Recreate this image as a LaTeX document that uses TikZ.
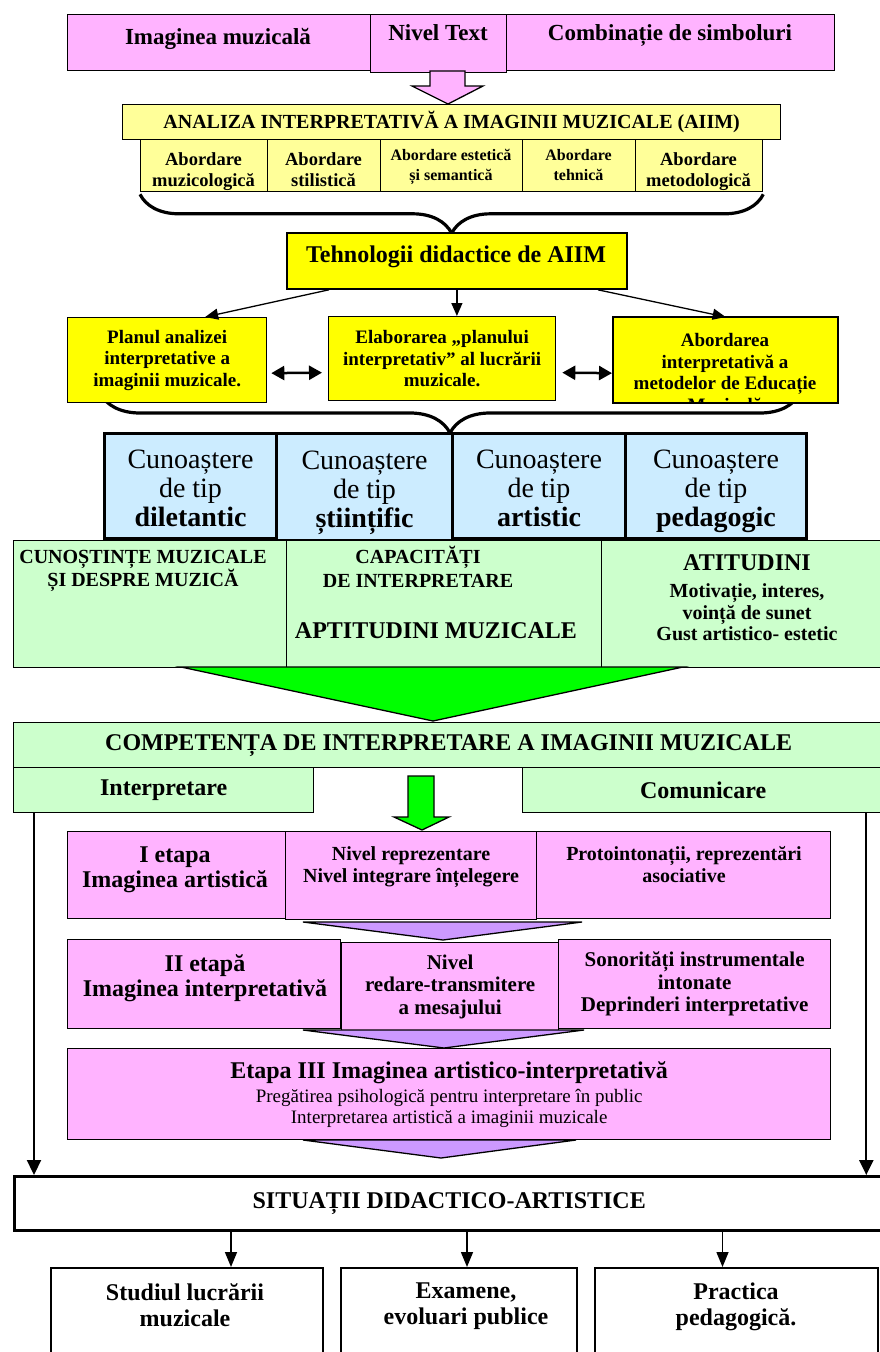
\documentclass[tikz,border=0pt]{standalone}
\usepackage{fontspec}
\setmainfont{Liberation Serif}
\usetikzlibrary{arrows.meta,decorations.pathreplacing,positioning}

\definecolor{roz}{HTML}{FFB3FF}
\definecolor{galbenpal}{HTML}{FFFF99}
\definecolor{galben}{HTML}{FFFF00}
\definecolor{albastru}{HTML}{CCECFF}
\definecolor{verdepal}{HTML}{CCFFCC}
\definecolor{verde}{HTML}{00FF00}
\definecolor{mov}{HTML}{CC99FF}

\newcommand{\fsz}[2]{\fontsize{#1}{#2}\selectfont}
\newcommand{\sus}{\rule{0pt}{32pt}}

\tikzset{
  cell/.style={draw, line width=1.3pt, anchor=north west, inner sep=1pt, align=center, font=\bfseries},
  rozbox/.style={cell, fill=roz},
  palbox/.style={cell, fill=galbenpal},
  galbox/.style={cell, fill=galben},
  cunbox/.style={cell, fill=albastru, line width=3pt, font=\mdseries\fsz{28}{29}},
  verdebox/.style={cell, fill=verdepal},
  albbox/.style={cell, fill=white, line width=2pt},
  txt/.style={align=center, inner sep=0pt, anchor=north},
  bloc/.style={line width=1.3pt, line join=miter},
  sageata/.style={-{Triangle[length=13pt,width=11pt]}, line width=1.3pt},
  sageatagr/.style={-{Triangle[length=15pt,width=14pt]}, line width=2.2pt},
  dubla/.style={{Triangle[length=13pt,width=14pt]}-{Triangle[length=13pt,width=14pt]}, line width=2.5pt},
  acolada/.style={decorate, decoration={brace, mirror, amplitude=#1}, line width=3.2pt},
}

\begin{document}
\begin{tikzpicture}[x=1pt, y=-1pt]
\useasboundingbox (0,0) rectangle (880,1352);

% nivelul textului
\node[rozbox, minimum width=303pt, minimum height=56pt] (imag) at (67,14) {};
\node[rozbox, minimum width=136pt, minimum height=58pt] (nivel) at (370,14) {};
\node[rozbox, minimum width=328pt, minimum height=56pt] (simb) at (506,14) {};
\node[txt, font=\bfseries\fsz{23}{26}] (imagT) at (218,28) {Imaginea muzicală};
\node[txt, font=\bfseries\fsz{23}{26}] (nivelT) at (438,24) {Nivel Text};
\node[txt, font=\bfseries\fsz{23}{26}] (simbT) at (670,24) {Combinație de simboluri};

\draw[bloc, fill=roz] (430,71) -- (465,71) -- (465,86) -- (483,86) -- (448,104) -- (412,86) -- (430,86) -- cycle;

% AIIM
\node[palbox, minimum width=658pt, minimum height=35pt, font=\bfseries\fsz{20}{22}] (analiza) at (122,104) {ANALIZA INTERPRETATIVĂ A IMAGINII MUZICALE (AIIM)};
\node[palbox, minimum width=127pt, minimum height=52pt] (ab1) at (140,139) {};
\node[palbox, minimum width=113pt, minimum height=52pt] (ab2) at (267,139) {};
\node[palbox, minimum width=142pt, minimum height=52pt] (ab3) at (380,139) {};
\node[palbox, minimum width=113pt, minimum height=52pt] (ab4) at (522,139) {};
\node[palbox, minimum width=127pt, minimum height=52pt] (ab5) at (635,139) {};
\node[txt, font=\bfseries\fsz{18.5}{21}] (ab1T) at (203.5,152) {Abordare\\muzicologică};
\node[txt, font=\bfseries\fsz{18.5}{21}] (ab2T) at (323.5,152) {Abordare\\stilistică};
\node[txt, font=\bfseries\fsz{16}{20}] (ab3T) at (451,149) {Abordare estetică\\și semantică};
\node[txt, font=\bfseries\fsz{16}{20}] (ab4T) at (578.5,149) {Abordare\\tehnică};
\node[txt, font=\bfseries\fsz{18.5}{21}] (ab5T) at (698.5,152) {Abordare\\metodologică};

\draw[acolada=39pt] ([yshift=-2pt]ab1.south west) -- ([yshift=-2pt]ab5.south east);

% tehnologii
\node[galbox, line width=1.8pt, minimum width=340pt, minimum height=56pt] (tehno) at (286,232) {};
\node[txt, font=\bfseries\fsz{24}{26}] (tehnoT) at (456,246) {Tehnologii didactice de AIIM};

\coordinate (acS) at (100,393);
\coordinate (acD) at (800,393);
\draw[acolada=40pt] (acS) -- (acD);

\node[galbox, minimum width=199pt, minimum height=85pt, font=\bfseries\fsz{19}{21.5}] (plan) at (67,317) {Planul analizei\\interpretative a\\imaginii muzicale.};
\node[galbox, minimum width=227pt, minimum height=84pt, font=\bfseries\fsz{19}{21.5}] (elab) at (328,316) {Elaborarea „planului\\interpretativ” al lucrării\\muzicale.};
\node[galbox, minimum width=224pt, minimum height=85pt] (abmet) at (613,317) {};
\begin{scope}
  \clip ([shift={(1pt,-1pt)}]abmet.north west) rectangle ([shift={(-1pt,1pt)}]abmet.south east);
  \node[txt, font=\bfseries\fsz{19}{21.5}] (abmetT) at (725,333.5) {Abordarea\\interpretativă a\\metodelor de Educație\\Muzicală};
\end{scope}
\draw[bloc] (abmet.north west) rectangle (abmet.south east);

\draw[sageata] ([xshift=-128pt]tehno.south) -- ([xshift=38pt]plan.north);
\draw[sageata] (tehno.south) -- (tehno.south |- elab.north);
\draw[sageata] ([xshift=141pt]tehno.south) -- (abmet.north);
\draw[dubla] ([shift={(4pt,-13pt)}]plan.east) -- ([shift={(-6pt,-14pt)}]elab.west);
\draw[dubla] ([shift={(6pt,-14pt)}]elab.east) -- ([shift={(-1pt,-13pt)}]abmet.west);

% tipuri de cunoastere
\node[cunbox, minimum width=172pt, minimum height=105pt] (cun1) at (103,432) {\sus Cunoaștere\\de tip\\\textbf{diletantic}\strut};
\node[cunbox, minimum width=173pt, minimum height=105pt] (cun3) at (451,432) {\sus Cunoaștere\\de tip\\\textbf{artistic}\strut};
\node[cunbox, minimum width=181pt, minimum height=105pt] (cun4) at (624,432) {\sus Cunoaștere\\de tip\\\textbf{pedagogic}\strut};
\node[cunbox, minimum width=176pt, minimum height=107pt] (cun2) at (275,432) {\sus Cunoaștere\\de tip\\\textbf{științific}\strut};

% componente
\node[verdebox, minimum width=273pt, minimum height=127pt] (cunost) at (13,540) {};
\node[verdebox, minimum width=315pt, minimum height=127pt] (capac) at (286,540) {};
\node[verdebox, minimum width=282pt, minimum height=127pt] (atit) at (601,540) {};
\node[txt, font=\bfseries\fsz{20}{22}] (cunostT) at (143,550) {CUNOȘTINȚE MUZICALE\\ȘI DESPRE MUZICĂ};
\node[txt, font=\bfseries\fsz{20}{24}] (capacT) at (418,546) {CAPACITĂȚI\\DE INTERPRETARE};
\node[txt, font=\bfseries\fsz{24}{26}] (aptT) at (436,622) {APTITUDINI MUZICALE};
\node[txt, font=\bfseries\fsz{20}{21.5}] (atitT) at (747,554) {{\fsz{24}{26}ATITUDINI}\\[6pt]Motivație, interes,\\voință de sunet\\Gust artistico- estetic};

\draw[bloc, fill=verde] (181,667) -- (683,667) -- (433,721) -- cycle;

% competenta
\node[verdebox, minimum width=870pt, minimum height=45pt, font=\bfseries\fsz{24}{26}] (compet) at (13,722) {COMPETENȚA DE INTERPRETARE A IMAGINII MUZICALE};
\node[verdebox, minimum width=300pt, minimum height=45pt, font=\bfseries\fsz{24}{26}] (interp) at (13,767) {Interpretare};
\node[verdebox, minimum width=361pt, minimum height=45pt, font=\bfseries\fsz{24}{26}] (comun) at (522,767) {Comunicare};

\draw[bloc, fill=verde] (408,776) -- (434,776) -- (434,817) -- (449,817) -- (422,830) -- (394,817) -- (408,817) -- cycle;

% etapa I
\node[rozbox, minimum width=218pt, minimum height=87pt] (et1) at (67,831) {};
\node[rozbox, minimum width=251pt, minimum height=88pt] (et1niv) at (285,831) {};
\node[rozbox, minimum width=294pt, minimum height=87pt] (et1pro) at (536,831) {};
\node[txt, font=\bfseries\fsz{24}{25}] (et1T) at (175,847) {I etapa\\Imaginea artistică};
\node[txt, font=\bfseries\fsz{20}{22}] (et1nivT) at (411,846) {Nivel reprezentare\\Nivel integrare înțelegere};
\node[txt, font=\bfseries\fsz{20}{22}] (et1proT) at (684,846) {Protointonații, reprezentări\\asociative};

\draw[bloc, fill=mov] (303,922) -- (582,922) -- (443,940) -- cycle;

% etapa II
\node[rozbox, minimum width=273pt, minimum height=89pt] (et2) at (67,939) {};
\node[rozbox, minimum width=272pt, minimum height=89pt, font=\bfseries\fsz{21}{22.5}] (et2son) at (558,939) {Sonorități instrumentale\\intonate\\Deprinderi interpretative};
\node[rozbox, minimum width=217pt, minimum height=88pt, font=\bfseries\fsz{21}{22.5}] (et2niv) at (341,942) {Nivel\\redare-transmitere\\a mesajului};
\node[txt, font=\bfseries\fsz{24}{25}] (et2T) at (205,954) {II etapă\\Imaginea interpretativă};

\draw[bloc, fill=mov] (303,1030) -- (584,1030) -- (444,1048) -- cycle;

% etapa III
\node[rozbox, minimum width=763pt, minimum height=91pt, font=\bfseries\fsz{19}{21}] (et3) at (67,1048) {{\fsz{24}{26}Etapa III Imaginea artistico-interpretativă}\\[3pt]{\mdseries Pregătirea psihologică pentru interpretare în public}\\{\mdseries Interpretarea artistică a imaginii muzicale}};

\draw[bloc, fill=mov] (303,1140) -- (576,1140) -- (441,1158) -- cycle;

% situatii
\node[albbox, line width=2.5pt, minimum width=870pt, minimum height=54pt, font=\bfseries\fsz{24}{26}] (sit) at (13,1175) {SITUAȚII DIDACTICO-ARTISTICE};

\coordinate (stg) at ([xshift=21pt]interp.south west);
\coordinate (dr) at ([xshift=-18pt]comun.south east);
\draw[sageatagr] (stg) -- (stg |- sit.north);
\draw[sageatagr] (dr) -- (dr |- sit.north);

\node[albbox, minimum width=272pt, minimum height=110pt] (stud) at (50,1267) {};
\node[albbox, minimum width=236pt, minimum height=110pt] (exam) at (340,1267) {};
\node[albbox, minimum width=283pt, minimum height=110pt] (pract) at (594,1267) {};
\node[txt, font=\bfseries\fsz{24}{26}] (studT) at (185,1283) {Studiul lucrării\\muzicale};
\node[txt, font=\bfseries\fsz{24}{26}] (examT) at (466,1283) {Examene,\\evoluari publice};
\node[txt, font=\bfseries\fsz{24}{26}] (practT) at (736,1283) {Practica\\pedagogică.};

\draw[sageata, -{Triangle[length=15pt,width=12pt]}, line width=1.5pt] ([xshift=44pt]stud.north |- sit.south) -- ([xshift=44pt]stud.north);
\draw[sageata, -{Triangle[length=15pt,width=12pt]}, line width=1.5pt] ([xshift=8pt]exam.north |- sit.south) -- ([xshift=8pt]exam.north);
\draw[sageata, -{Triangle[length=15pt,width=12pt]}, line width=1.5pt] ([xshift=-14pt]pract.north |- sit.south) -- ([xshift=-14pt]pract.north);
\end{tikzpicture}
\end{document}
